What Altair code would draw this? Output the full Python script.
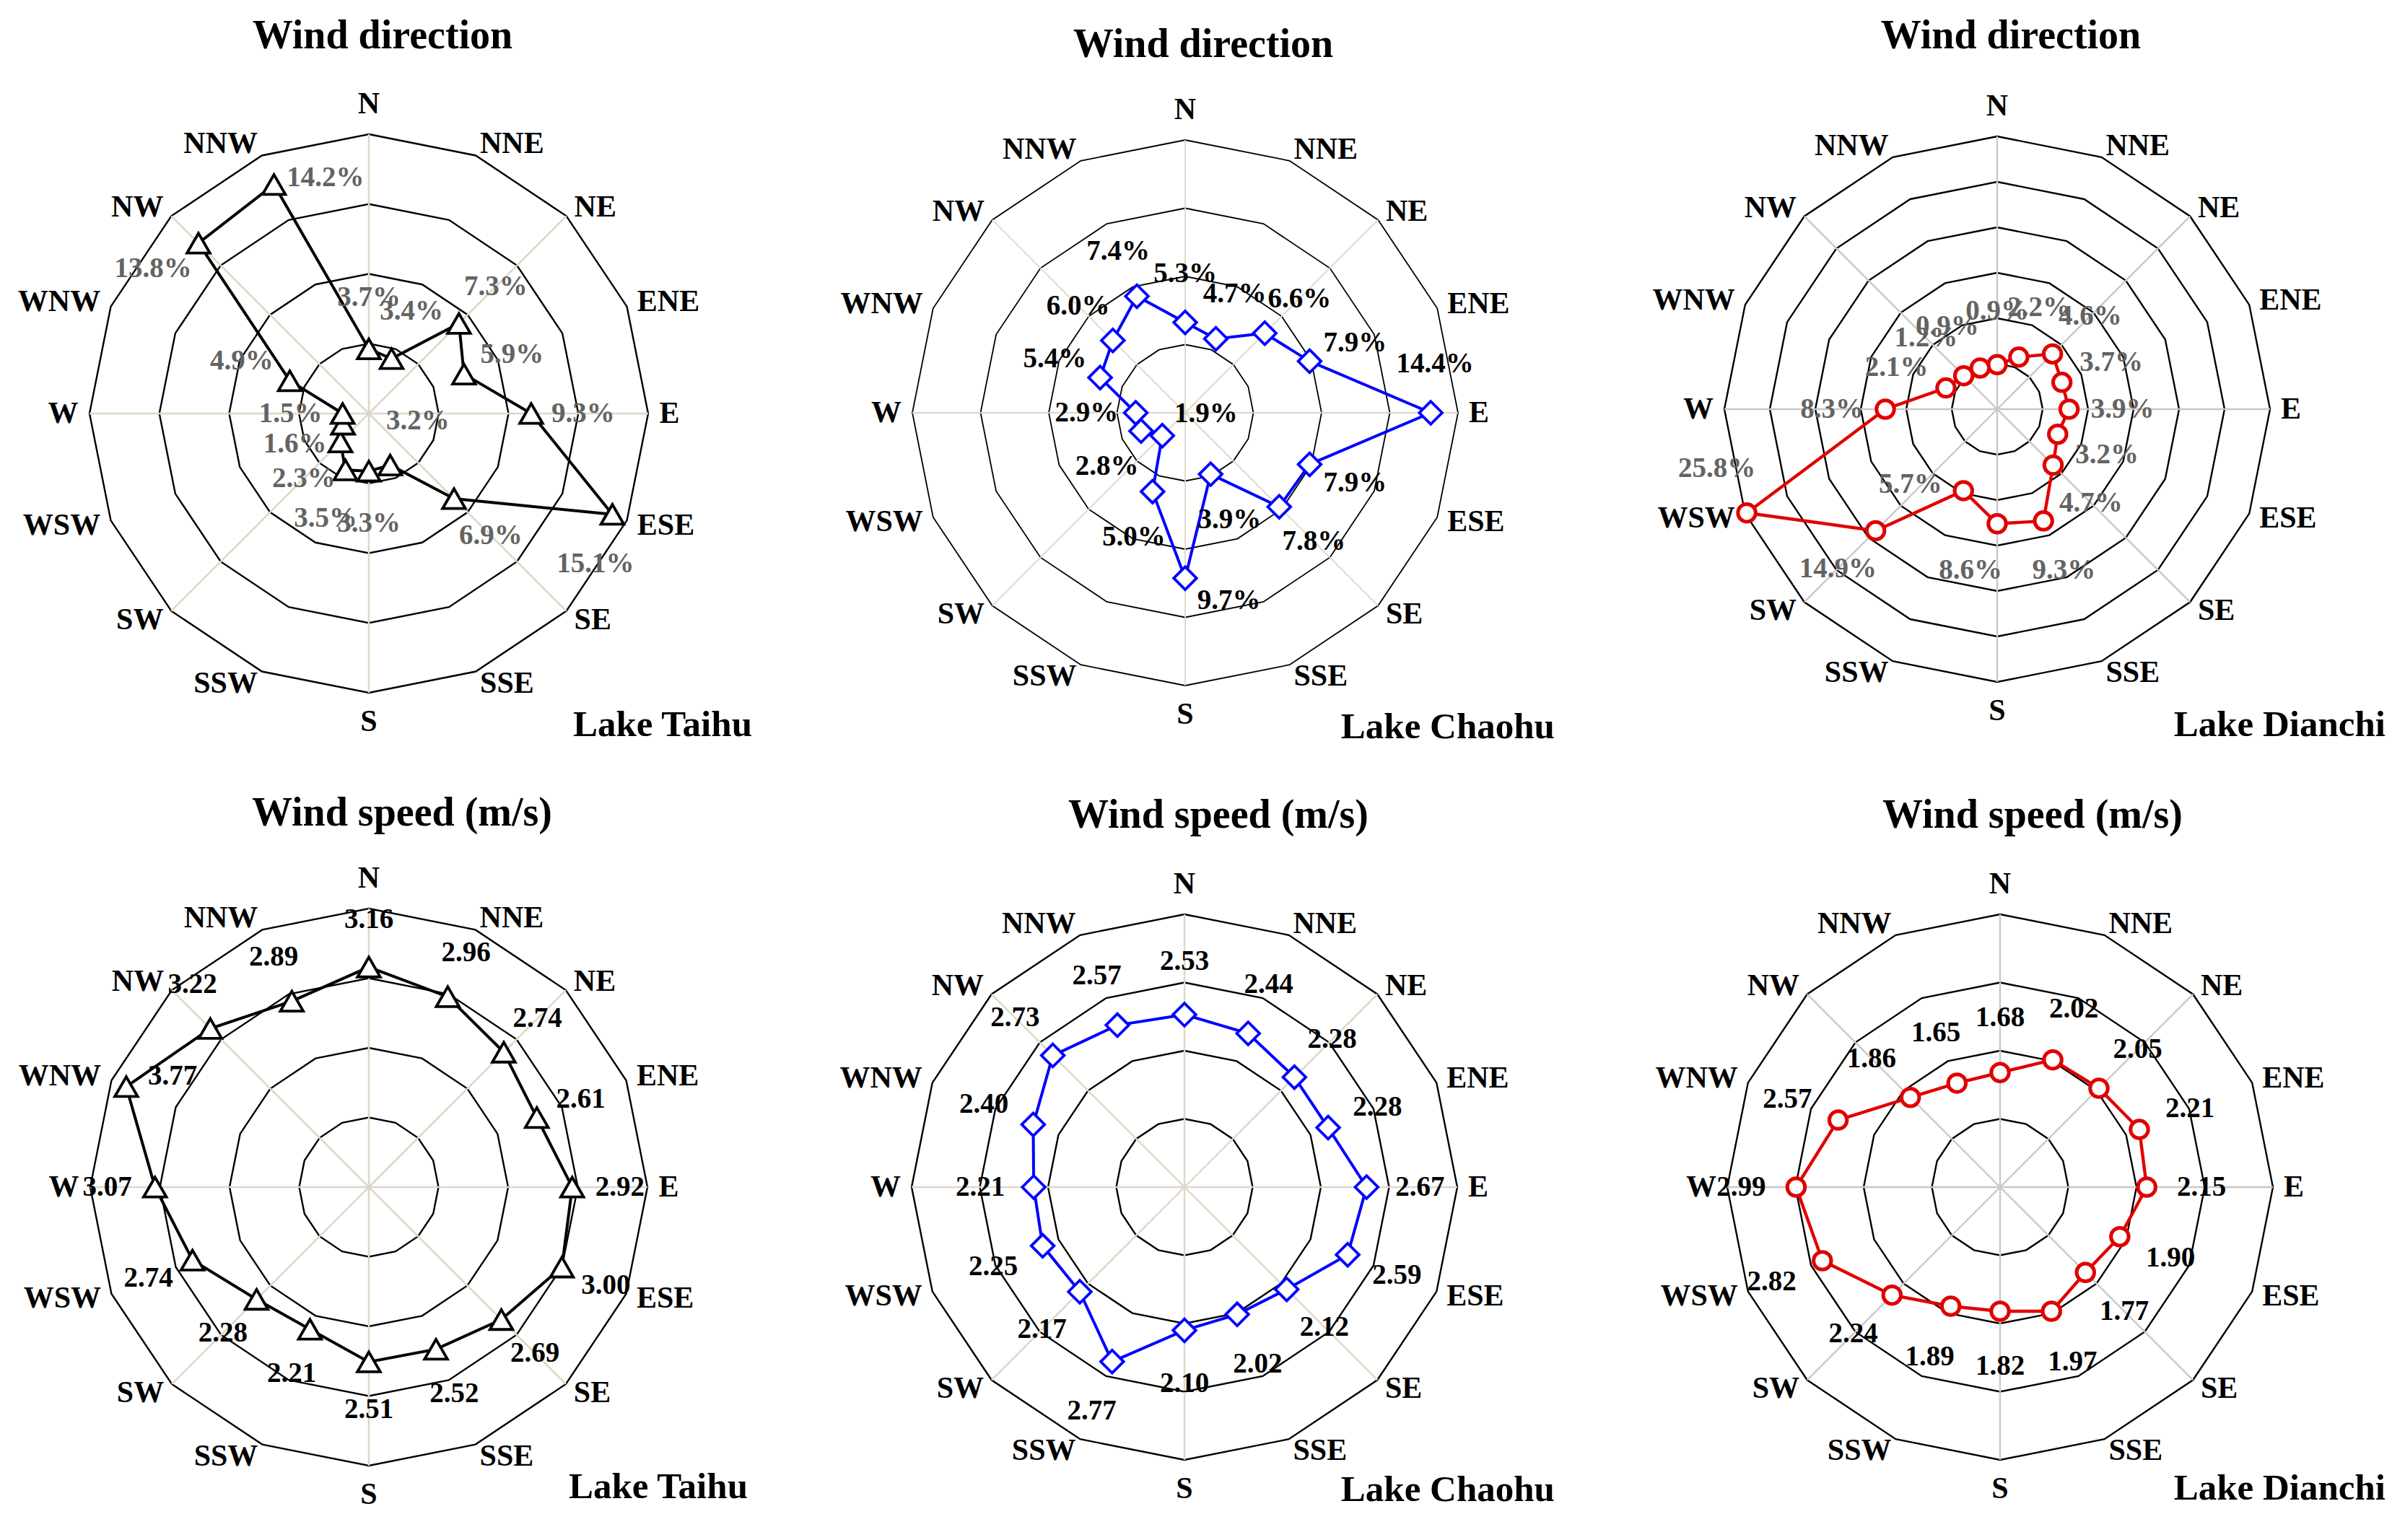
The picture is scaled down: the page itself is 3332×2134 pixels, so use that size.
import altair as alt
import pandas as pd

# ---------------- data ----------------
directions = ["N", "NNE", "NE", "ENE", "E", "ESE", "SE", "SSE",
              "S", "SSW", "SW", "WSW", "W", "WNW", "NW", "NNW"]

taihu_dir = [3.7, 3.4, 7.3, 5.9, 9.3, 15.1, 6.9, 3.2, 3.3, 3.5, 2.3, 1.6, 1.5, 4.9, 13.8, 14.2]
chaohu_dir = [5.3, 4.7, 6.6, 7.9, 14.4, 7.9, 7.8, 3.9, 9.7, 5.0, 1.9, 2.8, 2.9, 5.4, 6.0, 7.4]
dianchi_dir = [0.9, 2.2, 4.6, 3.7, 3.9, 3.2, 4.7, 9.3, 8.6, 5.7, 14.9, 25.8, 8.3, 2.1, 1.2, 0.9]

taihu_speed = [3.16, 2.96, 2.74, 2.61, 2.92, 3.00, 2.69, 2.52, 2.51, 2.21, 2.28, 2.74, 3.07, 3.77, 3.22, 2.89]
chaohu_speed = [2.53, 2.44, 2.28, 2.28, 2.67, 2.59, 2.12, 2.02, 2.10, 2.77, 2.17, 2.25, 2.21, 2.40, 2.73, 2.57]
dianchi_speed = [1.68, 2.02, 2.05, 2.21, 2.15, 1.90, 1.77, 1.97, 1.82, 1.89, 2.24, 2.82, 2.99, 2.57, 1.86, 1.65]

lakes = ["Lake Taihu", "Lake Chaohu", "Lake Dianchi"]
title_dir = "Wind direction"
title_speed = "Wind speed (m/s)"

# ---------------- styling / layout ----------------
FONT = "Liberation Serif"
W, H = 1105, 1059
BEIGE = "#ddd7c6"
LGRAY = "#c8c8c8"
TXTGRAY = "#636363"

panels = [
    dict(values=taihu_dir, title=title_dir, lake=lakes[0], center=(503, 565), R=387,
         domain=(0, 16), rings=4, color="black", shape="triangle-up", size=1000, mw=3.8,
         label_color=TXTGRAY, fmt=".1f", pct=True, spoke=BEIGE, spoke_w=2.6, ring_w=2.4,
         line_w=4, title_pos=(522, 42), lake_pos=(1034, 997), label_off=72,
         overrides={5: 199, 7: 32, 14: 241, 15: 82}),
    dict(values=chaohu_dir, title=title_dir, lake=lakes[1], center=(529, 564), R=378,
         domain=(0, 16), rings=4, color="#0000ff", shape="diamond", size=1000, mw=3.8,
         label_color="black", fmt=".1f", pct=True, spoke=BEIGE, spoke_w=1.8, ring_w=1.8,
         line_w=4, title_pos=(554, 54), lake_pos=(1041, 1000), label_off=68,
         overrides={4: 5, 8: 117, 10: 63, 11: 224}),
    dict(values=dianchi_dir, title=title_dir, lake=lakes[2], center=(549, 559), R=378,
         domain=(-4, 26), rings=6, color="#e00000", shape="circle", size=600, mw=5,
         label_color=TXTGRAY, fmt=".1f", pct=True, spoke=LGRAY, spoke_w=2.4, ring_w=2.4,
         line_w=4.4, title_pos=(568, 42), lake_pos=(1087, 997), label_off=74,
         overrides={8: 210, 9: 277, 11: 326, 15: 322}),
    dict(values=taihu_speed, title=title_speed, lake=lakes[0], center=(503, 578), R=386,
         domain=(0, 4), rings=4, color="black", shape="triangle-up", size=1000, mw=3.8,
         label_color="black", fmt=".2f", pct=False, spoke=BEIGE, spoke_w=2.6, ring_w=2.4,
         line_w=4, title_pos=(549, 60), lake_pos=(1028, 994), label_off=66,
         overrides={13: 77, 14: 338}),
    dict(values=chaohu_speed, title=title_speed, lake=lakes[1], center=(528, 578), R=378,
         domain=(0, 4), rings=4, color="#0000ff", shape="diamond", size=1000, mw=3.8,
         label_color="black", fmt=".2f", pct=False, spoke=BEIGE, spoke_w=2.4, ring_w=2.4,
         line_w=4, title_pos=(575, 63), lake_pos=(1041, 998), label_off=74,
         overrides={}),
    dict(values=dianchi_speed, title=title_speed, lake=lakes[2], center=(553, 578), R=378,
         domain=(0, 4), rings=4, color="#e00000", shape="circle", size=600, mw=5,
         label_color="black", fmt=".2f", pct=False, spoke=LGRAY, spoke_w=2.4, ring_w=2.4,
         line_w=4.4, title_pos=(598, 63), lake_pos=(1087, 996), label_off=76,
         overrides={}),
]


def make_panel(c):
    R = c["R"]
    cx, cy = c["center"]
    lo, hi = c["domain"]
    span = hi - lo
    xs = alt.Scale(domain=[-cx / R, (W - cx) / R], nice=False, zero=False)
    ys = alt.Scale(domain=[(cy - H) / R, cy / R], nice=False, zero=False)

    def X(f):
        return alt.X(f, type="quantitative", scale=xs, axis=None)

    def Y(f):
        return alt.Y(f, type="quantitative", scale=ys, axis=None)

    rn_expr = f"(datum.v - ({lo})) / {span}"

    # polygonal grid rings (16-gons)
    ticks = [lo + span * k / c["rings"] for k in range(1, c["rings"] + 1)]
    ring_df = pd.DataFrame([{"v": t, "k": k, "i": i}
                            for k, t in enumerate(ticks) for i in range(17)])
    rings = alt.Chart(ring_df).transform_calculate(
        rn=rn_expr
    ).transform_calculate(
        x="datum.rn * sin(datum.i * PI / 8)",
        y="datum.rn * cos(datum.i * PI / 8)",
    ).mark_line(color="black", strokeWidth=c["ring_w"]).encode(
        x=X("x"), y=Y("y"), detail="k:N", order="i:Q")

    # spokes
    spoke_df = pd.DataFrame({"i": list(range(0, 16, 2))})
    spokes = alt.Chart(spoke_df).transform_calculate(
        x0="0", y0="0",
        x1="sin(datum.i * PI / 8)", y1="cos(datum.i * PI / 8)",
    ).mark_rule(color=c["spoke"], strokeWidth=c["spoke_w"]).encode(
        x=X("x0"), y=Y("y0"), x2="x1:Q", y2="y1:Q")

    # data polygon (closed)
    vals = c["values"]
    line_df = pd.DataFrame({"i": list(range(17)),
                            "v": [vals[i % 16] for i in range(17)]})
    base = alt.Chart(line_df).transform_calculate(
        rn=rn_expr
    ).transform_calculate(
        x="datum.rn * sin(datum.i * PI / 8)",
        y="datum.rn * cos(datum.i * PI / 8)",
    )
    line = base.mark_line(color=c["color"], strokeWidth=c["line_w"]).encode(
        x=X("x"), y=Y("y"), order="i:Q")
    pts = base.transform_filter("datum.i < 16").mark_point(
        shape=c["shape"], size=c["size"], filled=True, fill="white",
        stroke=c["color"], strokeWidth=c["mw"], opacity=1
    ).encode(x=X("x"), y=Y("y"))

    # value labels
    off = c["label_off"] / R
    lab_df = pd.DataFrame({
        "i": list(range(16)),
        "v": vals,
        "la": [c["overrides"].get(i, i * 22.5) for i in range(16)],
    })
    suffix = " + '%'" if c["pct"] else ""
    labels = alt.Chart(lab_df).transform_calculate(
        rn=rn_expr
    ).transform_calculate(
        x="datum.rn * sin(datum.i * PI / 8)",
        y="datum.rn * cos(datum.i * PI / 8)",
    ).transform_calculate(
        lx=f"datum.x + {off} * sin(datum.la * PI / 180)",
        ly=f"datum.y + {off} * cos(datum.la * PI / 180)",
        txt=f"format(datum.v, '{c['fmt']}')" + suffix,
    ).mark_text(font=FONT, fontWeight="bold", fontSize=39, color=c["label_color"],
                align="center", baseline="middle").encode(
        x=X("lx"), y=Y("ly"), text="txt:N")

    # compass labels
    g = 20 / R
    comp_df = pd.DataFrame({"i": list(range(16)), "name": directions})
    cb = alt.Chart(comp_df).transform_calculate(
        x="sin(datum.i * PI / 8)", y="cos(datum.i * PI / 8)")
    cstyle = dict(font=FONT, fontWeight="bold", fontSize=42, color="black")
    c_top = cb.transform_filter("datum.i == 0").transform_calculate(
        yy=f"1 + {g}").mark_text(align="center", baseline="bottom", **cstyle).encode(
        x=X("x"), y=Y("yy"), text="name:N")
    c_bot = cb.transform_filter("datum.i == 8").transform_calculate(
        yy=f"-1 - {g}").mark_text(align="center", baseline="top", **cstyle).encode(
        x=X("x"), y=Y("yy"), text="name:N")
    c_right = cb.transform_filter("datum.i >= 1 && datum.i <= 7").transform_calculate(
        xx="datum.x * 1.04", yy="datum.y * 1.045").mark_text(
        align="left", baseline="middle", **cstyle).encode(
        x=X("xx"), y=Y("yy"), text="name:N")
    c_left = cb.transform_filter("datum.i >= 9").transform_calculate(
        xx="datum.x * 1.04", yy="datum.y * 1.045").mark_text(
        align="right", baseline="middle", **cstyle).encode(
        x=X("xx"), y=Y("yy"), text="name:N")

    tx, ty = c["title_pos"]
    ttl = alt.Chart(pd.DataFrame({"t": [c["title"]]})).mark_text(
        font=FONT, fontWeight="bold", fontSize=56, color="black",
        align="center", baseline="middle").encode(
        x=alt.value(tx), y=alt.value(ty), text="t:N")

    lx, ly = c["lake_pos"]
    lake = alt.Chart(pd.DataFrame({"t": [c["lake"]]})).mark_text(
        font=FONT, fontWeight="bold", fontSize=51, color="black",
        align="right", baseline="middle").encode(
        x=alt.value(lx), y=alt.value(ly), text="t:N")

    return alt.layer(rings, spokes, line, pts, labels,
                     c_top, c_bot, c_right, c_left, ttl, lake).properties(width=W, height=H)


row1 = alt.hconcat(*[make_panel(c) for c in panels[:3]], spacing=0).resolve_scale(
    x="independent", y="independent")
row2 = alt.hconcat(*[make_panel(c) for c in panels[3:]], spacing=0).resolve_scale(
    x="independent", y="independent")
chart = alt.vconcat(row1, row2, spacing=0, padding=0, background="white").resolve_scale(
    x="independent", y="independent").configure_view(stroke=None)

chart.save("out.html", embed_options={"renderer": "svg", "actions": False})
